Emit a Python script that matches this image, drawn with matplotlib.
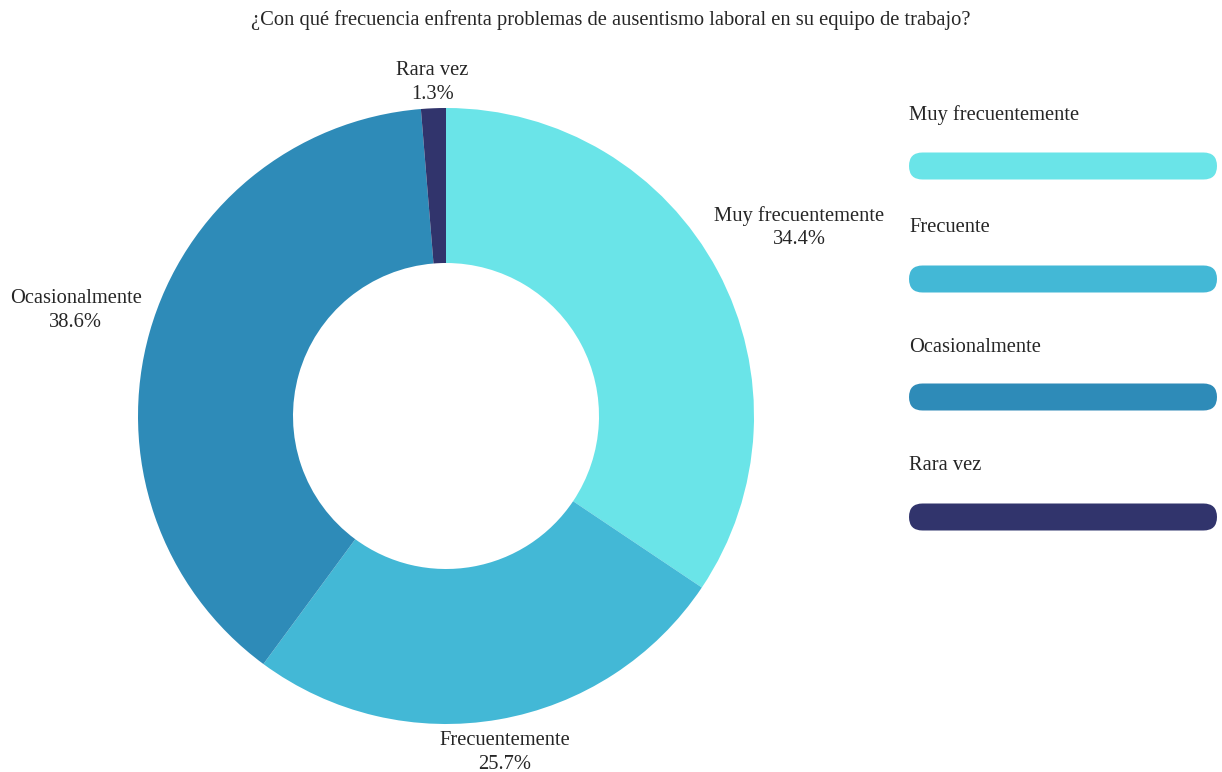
import matplotlib
matplotlib.use("Agg")
import matplotlib.pyplot as plt
from matplotlib.patches import FancyBboxPatch
import numpy as np

title = "¿Con qué frecuencia enfrenta problemas de ausentismo laboral en su equipo de trabajo?"
categories = ["Muy frecuentemente", "Frecuentemente", "Ocasionalmente", "Rara vez"]
legend_labels = ["Muy frecuentemente", "Frecuente", "Ocasionalmente", "Rara vez"]
values = [34.4, 25.7, 38.6, 1.3]
colors = ["#6ae4e8", "#43b8d6", "#2e8bb8", "#31346c"]
label_dist = [1.30, 1.11, 1.25, 1.085]

plt.rcParams['font.family'] = ['Liberation Serif', 'DejaVu Serif']
W, H = 1222, 772
fig = plt.figure(figsize=(W / 100, H / 100), dpi=100)
ax = fig.add_axes([0, 0, 1, 1])

cx, cy, R = 446, H - 416, 308
wedges, _ = ax.pie(values, colors=colors, startangle=90, counterclock=False,
                   radius=R, center=(cx, cy), frame=True,
                   wedgeprops=dict(width=R - 153, linewidth=0))
ax.set_xlim(0, W)
ax.set_ylim(0, H)
ax.axis('off')

fs = 14.8
tc = "#262626"
for w, cat, v, d in zip(wedges, categories, values, label_dist):
    ang = np.deg2rad((w.theta1 + w.theta2) / 2)
    x = cx + R * d * np.cos(ang)
    y = cy + R * d * np.sin(ang)
    ax.text(x, y, f"{cat}\n{v:.1f}%", ha='center', va='center', fontsize=fs,
            color=tc, linespacing=1.35)

ax.text(611, H - 20, title, ha='center', va='center', fontsize=fs, color=tc)

# legend
lx, lw, bh = 909, 308, 27
label_y = [115, 227, 347, 465]
bar_y = [166, 279, 397, 517]
for lab, c, ty, by in zip(legend_labels, colors, label_y, bar_y):
    ax.text(lx, H - ty, lab, ha='left', va='center', fontsize=fs, color=tc)
    p = FancyBboxPatch((lx, H - by - bh / 2), lw, bh,
                       boxstyle=f"round,pad=0,rounding_size={bh/2}",
                       facecolor=c, edgecolor='none')
    ax.add_patch(p)

fig.savefig("out.png", dpi=100)
